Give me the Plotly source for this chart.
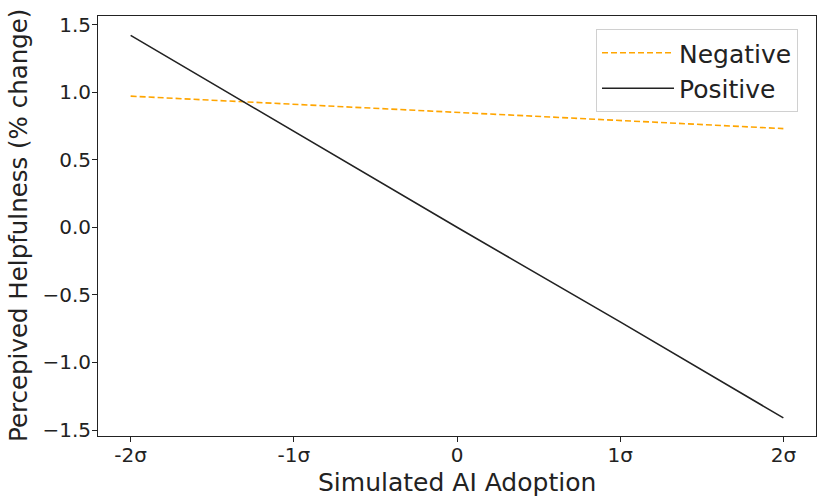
import plotly.graph_objects as go

x_vals = [-2, -1, 0, 1, 2]
x_ticktext = ["-2σ", "-1σ", "0", "1σ", "2σ"]
negative = [0.97, 0.91, 0.85, 0.79, 0.73]
positive = [1.42, 0.71, 0.0, -0.70, -1.41]
y_tickvals = [1.5, 1.0, 0.5, 0.0, -0.5, -1.0, -1.5]
y_ticktext = ["1.5", "1.0", "0.5", "0.0", "−0.5", "−1.0", "−1.5"]

font = "DejaVu Sans, sans-serif"
ink = "#222222"

fig = go.Figure()
fig.add_trace(go.Scatter(x=x_vals, y=negative, mode="lines", name="Negative",
                         line=dict(color="#FFA500", width=1.6, dash="6px,3px")))
fig.add_trace(go.Scatter(x=x_vals, y=positive, mode="lines", name="Positive",
                         line=dict(color=ink, width=1.6)))

fig.update_layout(
    width=817, height=496,
    margin=dict(l=98, r=1, t=16, b=60, autoexpand=False),
    paper_bgcolor="white", plot_bgcolor="white",
    font=dict(family=font, color=ink),
    showlegend=True,
    legend=dict(x=0.6936, y=0.969, xanchor="left", yanchor="top",
                bgcolor="white", bordercolor="#d0d0d0", borderwidth=1,
                font=dict(size=25, family=font, color=ink),
                itemwidth=72),
    annotations=[
        dict(text="Simulated AI Adoption", xref="paper", yref="paper",
             x=0.5, y=0, yshift=-46, xanchor="center", yanchor="middle",
             showarrow=False, font=dict(size=25, family=font, color=ink)),
        dict(text="Percepived Helpfulness (% change)", xref="paper", yref="paper",
             x=0, y=0.5, xshift=-80, xanchor="center", yanchor="middle", textangle=-90,
             showarrow=False, font=dict(size=24.5, family=font, color=ink)),
    ],
)
fig.update_xaxes(
    range=[-2.2, 2.2], tickmode="array", tickvals=x_vals, ticktext=x_ticktext,
    ticks="outside", ticklen=5, tickwidth=1, tickcolor=ink,
    showline=True, linecolor=ink, linewidth=1, mirror=True,
    showgrid=False, zeroline=False, automargin=False, ticklabelstandoff=-4,
    tickfont=dict(size=20, family=font, color=ink),
)
fig.update_yaxes(
    range=[-1.544, 1.563], tickmode="array", tickvals=y_tickvals, ticktext=y_ticktext,
    ticks="outside", ticklen=5, tickwidth=1, tickcolor=ink,
    showline=True, linecolor=ink, linewidth=1, mirror=True,
    showgrid=False, zeroline=False, automargin=False, ticklabelstandoff=-3,
    tickfont=dict(size=20, family=font, color=ink),
)

fig.write_html("out.html", config={"displayModeBar": False},
               post_script="document.body.style.margin='0';document.body.style.overflow='hidden';")
